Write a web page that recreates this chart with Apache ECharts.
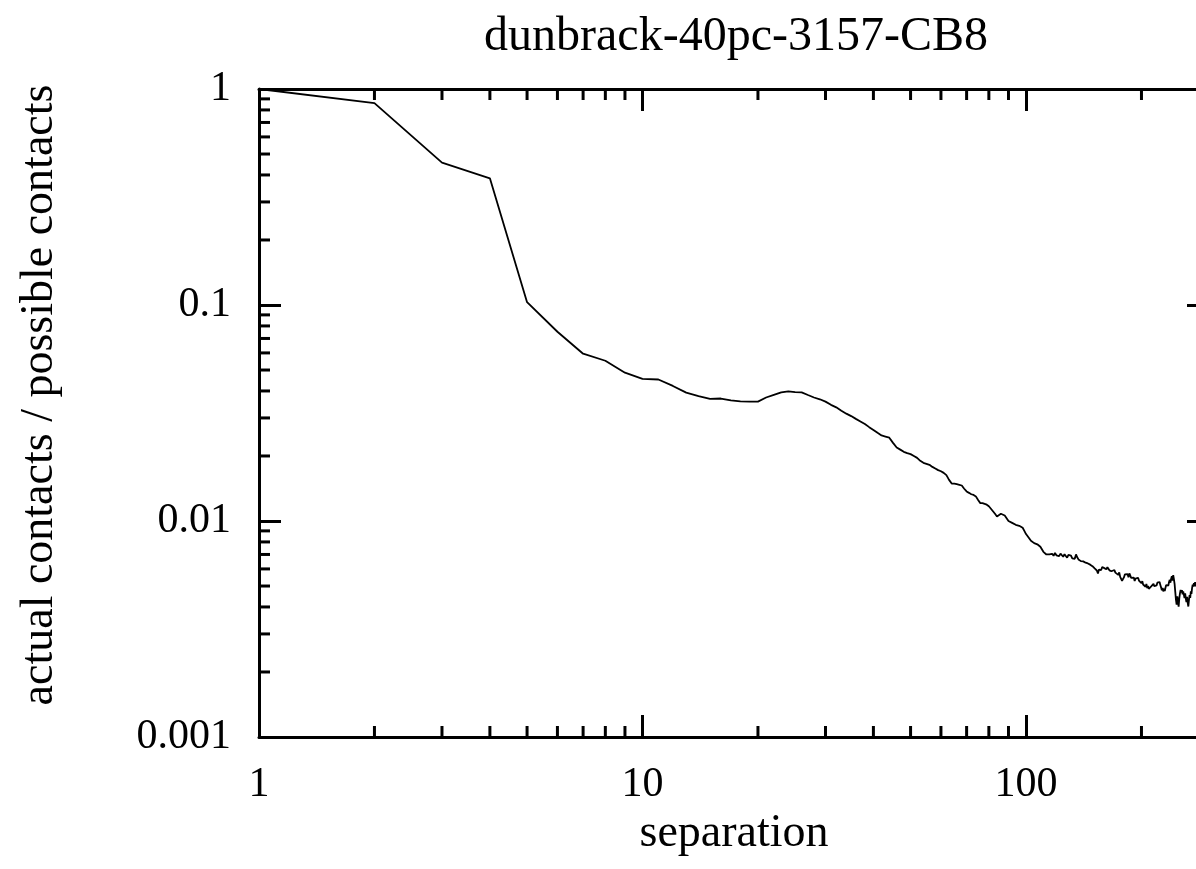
<!DOCTYPE html>
<html><head><meta charset="utf-8">
<script src="https://cdn.jsdelivr.net/npm/echarts@6/dist/echarts.min.js"></script>
<style>html,body{margin:0;padding:0;background:#fff}#c{width:1196px;height:869px}</style>
</head><body><div id="c"></div>
<script>
const titleText = 'dunbrack-40pc-3157-CB8';
const xName = 'separation';
const yName = 'actual contacts / possible contacts';
const xMin = 1, xMax = 300;
const yMin = 0.001, yMax = 1;
// separations 1..20
const ratioShort = [1.0,0.86,0.456,0.386,0.103,0.0752,0.0595,0.0552,0.0486,0.0455,0.0452,0.0422,0.0393,0.0379,0.0368,0.0369,0.0362,0.0358,0.0357,0.0357];
// separations 21..100
const ratioMid = [0.0373,0.0384,0.0394,0.0398,0.0395,0.0394,0.0383,0.0373,0.0366,0.0357,
0.0345,0.0336,0.0324,0.0314,0.0306,0.0297,0.0289,0.0281,0.0272,0.0264,
0.0256,0.0249,0.0246,0.0243,0.0230,0.0219,0.0214,0.0209,0.0206,0.0204,
0.0200,0.0196,0.0190,0.0186,0.0184,0.0182,0.0178,0.0175,0.0172,0.0170,
0.0167,0.0163,0.0155,0.0149,0.0149,0.0148,0.0147,0.0146,0.0141,0.0137,
0.0135,0.0133,0.0132,0.0130,0.0125,0.0121,0.0121,0.0120,0.0119,0.0117,
0.0114,0.0111,0.0108,0.0105,0.0107,0.0108,0.0107,0.0106,0.0103,0.0100,
0.0099,0.0098,0.0097,0.0096,0.0096,0.0095,0.0094,0.0093,0.0090,0.0087];
// separations 101..280
const ratioLong = [0.0085,0.0083,0.0081,0.0080,0.0079,0.0079,0.0078,0.0077,0.0076,0.0075,0.0072,0.0071,0.0070,0.0070,0.0070,0.0069,
0.00705,0.00690,0.00712,0.00694,0.00701,0.00688,0.00706,0.00695,0.00683,0.00702,
0.00690,0.00676,0.00697,0.00684,0.00692,0.00672,0.00686,0.00668,0.00700,0.00679,
0.00664,0.00671,0.00652,0.00662,0.00650,0.00661,0.00641,0.00652,0.00636,0.00644,
0.00628,0.00637,0.00618,0.00626,0.00603,0.00612,0.00590,0.00572,0.00596,0.00604,
0.00593,0.00612,0.00620,0.00605,0.00616,0.00598,0.00611,0.00603,0.00591,0.00602,
0.00585,0.00596,0.00580,0.00593,0.00577,0.00586,0.00571,0.00563,0.00578,0.00551,
0.00540,0.00529,0.00522,0.00548,0.00566,0.00574,0.00556,0.00568,0.00549,0.00572,
0.00560,0.00545,0.00552,0.00538,0.00547,0.00528,0.00541,0.00552,0.00535,0.00546,
0.00530,0.00541,0.00522,0.00515,0.00527,0.00508,0.00517,0.00502,0.00496,0.00511,
0.00489,0.00500,0.00485,0.00494,0.00480,0.00498,0.00507,0.00493,0.00512,0.00499,
0.00508,0.00494,0.00503,0.00518,0.00527,0.00510,0.00522,0.00505,0.00493,0.00478,
0.00490,0.00472,0.00486,0.00474,0.00491,0.00505,0.00497,0.00515,0.00502,0.00522,
0.00534,0.00518,0.00541,0.00555,0.00530,0.00562,0.00538,0.00512,0.00470,0.00432,
0.00410,0.00448,0.00425,0.00401,0.00438,0.00462,0.00480,0.00466,0.00478,0.00458,
0.00472,0.00455,0.00440,0.00463,0.00437,0.00421,0.00446,0.00418,0.00402,0.00431,
0.00454,0.00441,0.00472,0.00460,0.00489,0.00508,0.00497,0.00515,0.00498,0.00521,
0.00507,0.00514,0.00496,0.00509];
const xMinorTicks = [2,3,4,5,6,7,8,9,20,30,40,50,60,70,80,90,200,300];
const yMinorTicks = [0.002,0.003,0.004,0.005,0.006,0.007,0.008,0.009,0.02,0.03,0.04,0.05,0.06,0.07,0.08,0.09,0.2,0.3,0.4,0.5,0.6,0.7,0.8,0.9];

const FONT = 'Liberation Serif';
const FS_TICK = 42;
const FS_NAME = 46;
const FS_TITLE = 48;
const ratio = ratioShort.concat(ratioMid, ratioLong);
const seriesData = ratio.map((v, i) => [i + 1, v]);

function seg(x1, y1, x2, y2) {
  return {type: 'line', shape: {x1, y1, x2, y2}, style: {stroke: '#000', lineWidth: 3}};
}
const axisCommon = {
  axisLine: {show: true, lineStyle: {color: '#000', width: 3}},
  axisTick: {show: true, inside: true, length: 22, lineStyle: {color: '#000', width: 3}},
  splitLine: {show: false},
  minorTick: {show: false}
};
const chart = echarts.init(document.getElementById('c'), null, {renderer: 'canvas'});
chart.setOption({
  animation: false,
  backgroundColor: '#fff',
  title: {
    text: titleText, left: 731, top: 8, textAlign: 'center',
    textStyle: {fontFamily: FONT, fontSize: FS_TITLE, fontWeight: 'normal', color: '#000'}
  },
  grid: {left: 259, top: 89, width: 950, height: 648, containLabel: false, outerBoundsMode: 'none'},
  xAxis: [
    Object.assign({}, axisCommon, {
      type: 'log', logBase: 10, min: xMin, max: xMax, position: 'bottom',
      name: xName, nameLocation: 'middle', nameGap: 68,
      nameTextStyle: {fontFamily: FONT, fontSize: FS_NAME, color: '#000'},
      axisLabel: {fontFamily: FONT, fontSize: FS_TICK, color: '#000', margin: 27, showMaxLabel: false}
    }),
    Object.assign({}, axisCommon, {
      type: 'log', logBase: 10, min: xMin, max: xMax, position: 'top',
      axisLabel: {show: false}
    })
  ],
  yAxis: [
    Object.assign({}, axisCommon, {
      type: 'log', logBase: 10, min: yMin, max: yMax, position: 'left',
      name: yName, nameLocation: 'middle', nameGap: 196,
      nameTextStyle: {fontFamily: FONT, fontSize: FS_NAME, color: '#000', padding: [0, 0, 0, 36]},
      axisLabel: {fontFamily: FONT, fontSize: FS_TICK, color: '#000', margin: 28}
    }),
    Object.assign({}, axisCommon, {
      type: 'log', logBase: 10, min: yMin, max: yMax, position: 'right',
      axisLabel: {show: false}
    })
  ],
  series: [
    {
      type: 'line', xAxisIndex: 0, yAxisIndex: 0, data: seriesData,
      showSymbol: false, symbol: 'none', smooth: false, clip: true,
      lineStyle: {color: '#000', width: 1.8}
    },
    {
      type: 'custom', xAxisIndex: 0, yAxisIndex: 0, silent: true, clip: false,
      data: xMinorTicks.map(v => [v, yMin]),
      renderItem: function (params, api) {
        const v = api.value(0);
        const b = api.coord([v, yMin]);
        const t = api.coord([v, yMax]);
        return {type: 'group', children: [seg(b[0], b[1], b[0], b[1] - 11), seg(t[0], t[1], t[0], t[1] + 11)]};
      }
    },
    {
      type: 'custom', xAxisIndex: 0, yAxisIndex: 0, silent: true, clip: false,
      data: yMinorTicks.map(v => [xMin, v]),
      renderItem: function (params, api) {
        const v = api.value(1);
        const l = api.coord([xMin, v]);
        const r = api.coord([xMax, v]);
        return {type: 'group', children: [seg(l[0], l[1], l[0] + 11, l[1]), seg(r[0], r[1], r[0] - 11, r[1])]};
      }
    }
  ]
});
</script></body></html>
